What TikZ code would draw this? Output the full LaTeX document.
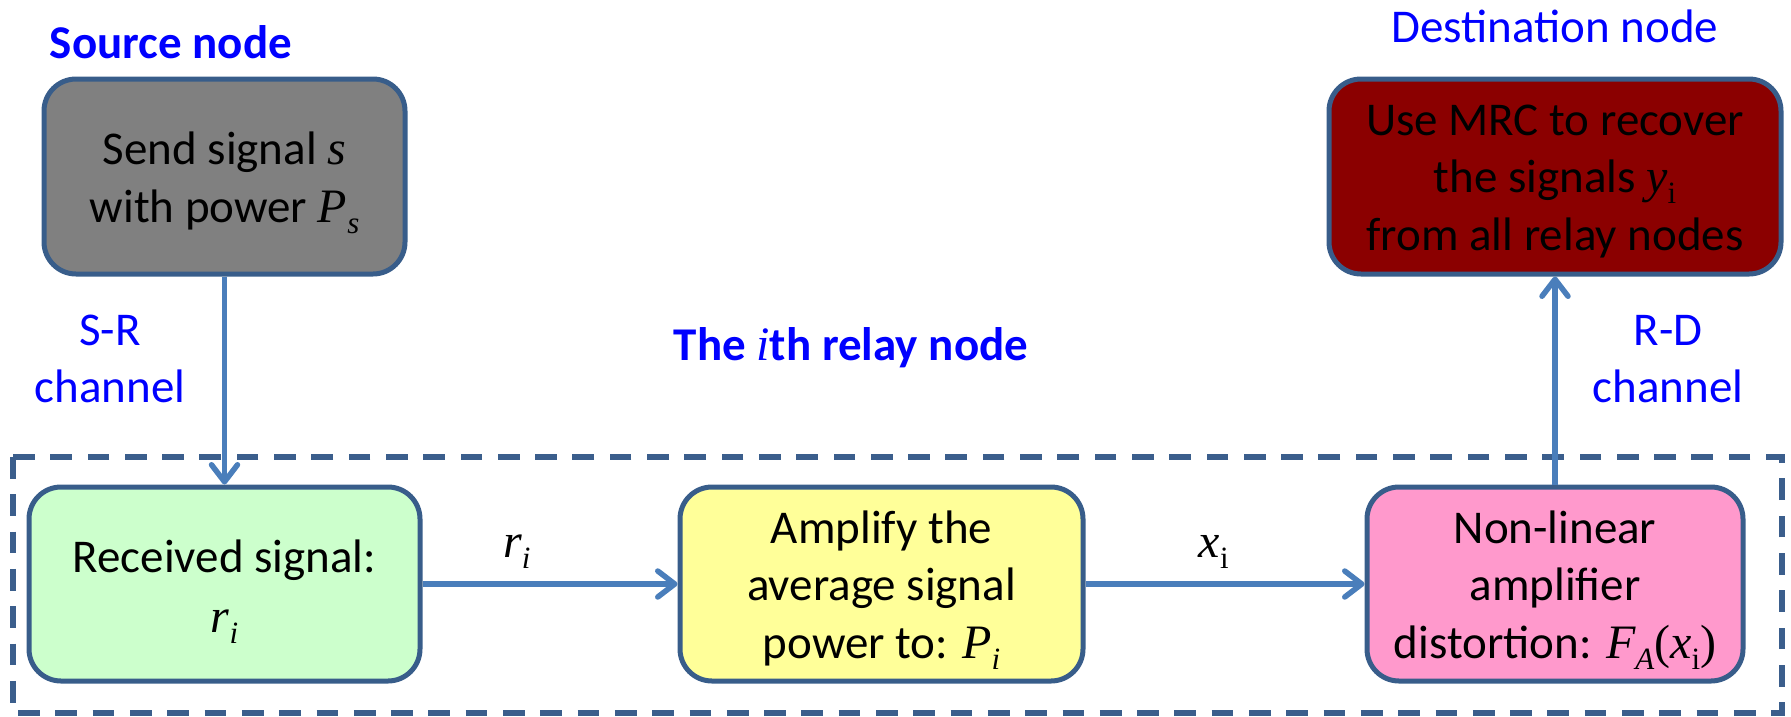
\documentclass[tikz,border=0pt]{standalone}
\usepackage{fontspec}
\setmainfont{Carlito}
\newfontfamily\tim{Liberation Serif}
\usetikzlibrary{arrows.meta}

\definecolor{bordc}{HTML}{385D8A}
\definecolor{arrc}{HTML}{4A7EBB}
\definecolor{dashc}{HTML}{3B5E8C}
\definecolor{labblue}{HTML}{0000FF}
\definecolor{srcfill}{HTML}{808080}
\definecolor{dstfill}{HTML}{8B0000}
\definecolor{rcvfill}{HTML}{CCFFCC}
\definecolor{ampfill}{HTML}{FFFF99}
\definecolor{nlafill}{HTML}{FF99CC}

% italic serif symbol and lowered subscript
\newcommand\mv[1]{{\tim\fontsize{48}{48}\selectfont\itshape #1}}
\newcommand\ssub[1]{\raisebox{-11pt}{\fontsize{31}{31}\selectfont\tim #1}}

\tikzset{
  blk/.style={draw=bordc, line width=5pt, rounded corners=32pt, inner sep=0pt,
    align=center, font=\fontsize{47}{57.5}\selectfont, text=black, text depth=20pt},
  flow/.style={draw=arrc, line width=5.5pt, -{Straight Barb[length=17pt,width=26pt,round]}},
  tag/.style={text=labblue, font=\fontsize{47}{57}\selectfont, align=center,
    inner sep=0pt, anchor=base},
  sym/.style={font=\fontsize{46}{46}\selectfont, inner sep=0pt, anchor=base},
}

\begin{document}
\begin{tikzpicture}[x=1pt, y=-1pt]
\useasboundingbox (0,0) rectangle (1791,716);

% relay enclosure
\draw[dashc, line width=6pt, dash pattern=on 21.7pt off 15.6pt] (13,457) rectangle (1782,713);

% headings
\node[tag, font=\fontsize{47}{57}\selectfont\bfseries] (srclab) at (171,58) {Source node};
\node[tag] (dstlab) at (1555,42) {Destination node};
\node[tag, font=\fontsize{47}{57}\selectfont\bfseries] (rellab) at (851,360) {The \mv{\mdseries i}th relay node};
\node[tag] (srlab) at (110,402) {S-R\\channel};
\node[tag] (rdlab) at (1668,402) {R-D\\channel};

% blocks
\node[blk, fill=srcfill, minimum width=361pt, minimum height=195pt, text height=111pt]
  (src) at (224.5,176.5) {Send signal \mv{s}\\with power \mv{P}\ssub{\itshape s}};
\node[blk, fill=dstfill, minimum width=452pt, minimum height=195pt, text height=167pt]
  (dst) at (1555,176.5) {Use MRC to recover\\the signals \mv{y}\ssub{i}\\from all relay nodes};
\node[blk, fill=rcvfill, minimum width=391pt, minimum height=194pt, text height=116pt,
  font=\fontsize{47}{60}\selectfont]
  (rcv) at (224.5,584) {Received signal:\\\mv{r}\ssub{\itshape i}};
\node[blk, fill=ampfill, minimum width=403pt, minimum height=194pt, text height=168pt]
  (amp) at (881.5,584) {Amplify the\\average signal\\power to: \mv{P}\ssub{\itshape i}};
\node[blk, fill=nlafill, minimum width=376pt, minimum height=194pt, text height=168pt]
  (nla) at (1555,584) {Non-linear\\amplifier\\distortion: \mv{F}\ssub{\itshape A}{\tim\fontsize{48}{48}\selectfont(}\mv{x}\ssub{i}{\tim\fontsize{48}{48}\selectfont)}};

% connectors
\draw[flow] (src) -- (rcv);
\draw[flow] (rcv) -- node[sym, pos=0.37, yshift=27pt] (rlab) {\mv{r}\ssub{\itshape i}} (amp);
\draw[flow] (amp) -- node[sym, pos=0.46, yshift=27pt] (xlab) {\mv{x}\ssub{i}} (nla);
\draw[flow] (nla) -- (dst);
\end{tikzpicture}
\end{document}
